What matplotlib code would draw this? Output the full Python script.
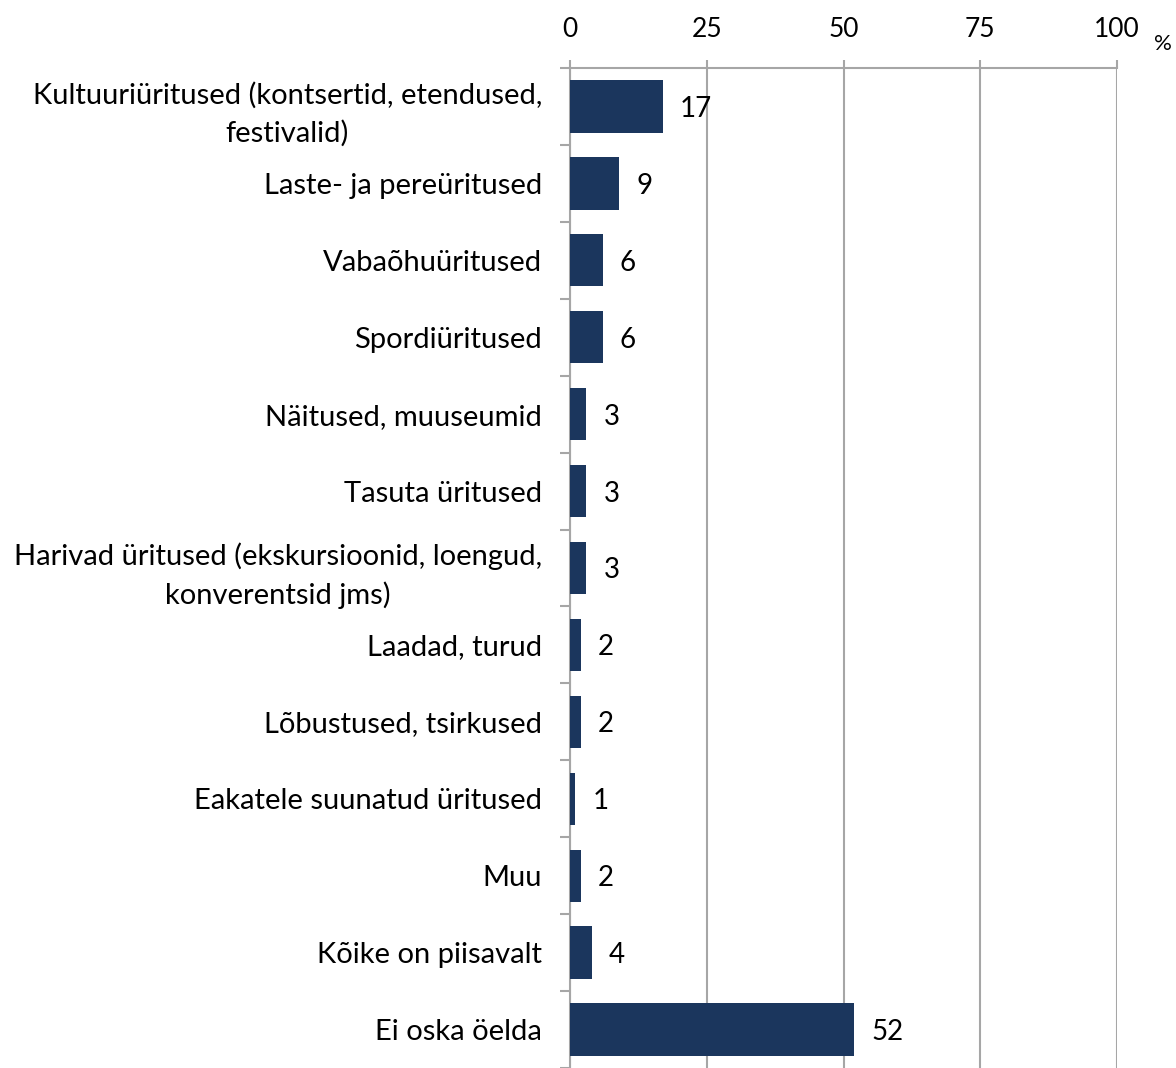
import matplotlib.pyplot as plt

plt.rcParams['font.family'] = ['Lato', 'DejaVu Sans']

categories = [
    'Kultuuriüritused (kontsertid, etendused,\nfestivalid)',
    'Laste- ja pereüritused',
    'Vabaõhuüritused',
    'Spordiüritused',
    'Näitused, muuseumid',
    'Tasuta üritused',
    'Harivad üritused (ekskursioonid, loengud,\nkonverentsid jms)',
    'Laadad, turud',
    'Lõbustused, tsirkused',
    'Eakatele suunatud üritused',
    'Muu',
    'Kõike on piisavalt',
    'Ei oska öelda',
]
values = [17, 9, 6, 6, 3, 3, 3, 2, 2, 1, 2, 4, 52]
x_ticks = [0, 25, 50, 75, 100]

bar_color = '#1b365d'
grid_color = '#a6a6a6'

fig = plt.figure(figsize=(11.76, 10.68), dpi=100)
ax = fig.add_axes([570 / 1176, 0.0, (1117 - 570) / 1176, 1 - 68 / 1068])

pos = list(range(len(categories)))
ax.barh(pos, values, height=0.68, color=bar_color, zorder=3)

for p, v in zip(pos, values):
    ax.text(v + 3.1, p, str(v), va='center_baseline', ha='left', fontsize=20, zorder=4)

ax.set_xlim(0, 100)
ax.set_ylim(12.4, -0.5)
ax.set_xticks(x_ticks)
ax.xaxis.tick_top()
ax.tick_params(axis='x', length=6, width=1.5, color=grid_color, pad=13, labelsize=19)
ax.grid(axis='x', color=grid_color, linewidth=1.5, zorder=0)

# category labels, ticks sit between categories
ax.set_yticks(pos)
ax.set_yticklabels(categories, fontsize=21)
for t in ax.get_yticklabels():
    t.set_multialignment('center')
    t.set_linespacing(1.5)
ax.tick_params(axis='y', length=0, pad=20)
ax.set_yticks([p + 0.5 for p in [-1] + pos], minor=True)
ax.tick_params(axis='y', which='minor', length=7, width=1.5, color=grid_color)

for side in ['right', 'bottom']:
    ax.spines[side].set_visible(False)
for side in ['top', 'left']:
    ax.spines[side].set_color(grid_color)
    ax.spines[side].set_linewidth(1.5)

fig.text(1163 / 1176, 1 - 44 / 1068, '%', fontsize=16, ha='center', va='center')

fig.savefig('out.png', dpi=100)
